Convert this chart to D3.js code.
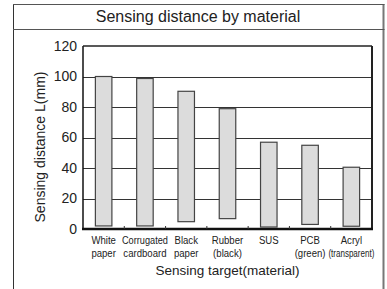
<!DOCTYPE html>
<html><head><meta charset="utf-8">
<script src="https://cdn.jsdelivr.net/npm/d3@7"></script>
<style>body{margin:0;background:#fff;} text{font-family:"Liberation Sans",Arial,sans-serif;fill:#222;}</style>
</head><body>
<svg id="c" width="387" height="289"></svg>
<script>
const categories = [["White","paper"],["Corrugated","cardboard"],["Black","paper"],["Rubber","(black)"],["SUS",""],["PCB","(green)"],["Acryl","(transparent)"]];
const minValues = [2, 2, 4.8, 6.8, 1.3, 3, 1.8];
const maxValues = [100, 98.7, 90.3, 78.9, 56.9, 54.9, 40.5];
const yTicks = [0, 20, 40, 60, 80, 100, 120];
const title = "Sensing distance by material";
const yTitle = "Sensing distance L(mm)";
const xTitle = "Sensing target(material)";

const svg = d3.select("#c");
const L = 83, R = 372, T = 46, B = 229;
const x = d3.scaleBand().domain(d3.range(categories.length)).range([L, R]).paddingInner(0.6).paddingOuter(0.3);
const y = d3.scaleLinear().domain([0, 120]).range([B, T]);

// frame
svg.append("line").attr("x1",13.5).attr("x2",13.5).attr("y1",4).attr("y2",289).attr("stroke","#333").attr("stroke-width",1);
svg.append("line").attr("x1",383.5).attr("x2",383.5).attr("y1",4).attr("y2",289).attr("stroke","#777").attr("stroke-width",2);
svg.append("line").attr("x1",13).attr("x2",384.5).attr("y1",4.5).attr("y2",4.5).attr("stroke","#555").attr("stroke-width",1);
svg.append("line").attr("x1",13).attr("x2",384.5).attr("y1",29.5).attr("y2",29.5).attr("stroke","#555").attr("stroke-width",1);
svg.append("text").attr("x",198).attr("y",22).attr("text-anchor","middle").style("font-size","16px").text(title);

// grid
svg.append("g").selectAll("line").data(yTicks.filter(d=>d>0&&d<120)).join("line")
  .attr("x1",L).attr("x2",R).attr("y1",d=>Math.round(y(d))+0.5).attr("y2",d=>Math.round(y(d))+0.5)
  .attr("stroke","#333").attr("stroke-width",1);

// bars
svg.append("g").selectAll("rect").data(categories.map((c,i)=>i)).join("rect")
  .attr("x",i=>x(i)).attr("width",x.bandwidth())
  .attr("y",i=>y(maxValues[i])).attr("height",i=>y(minValues[i])-y(maxValues[i]))
  .attr("fill","#dcdcdc").attr("stroke","#444").attr("stroke-width",1.2);

// plot border
svg.append("line").attr("x1",L).attr("x2",L).attr("y1",T).attr("y2",B).attr("stroke","#111").attr("stroke-width",1.5);
svg.append("line").attr("x1",L).attr("x2",R).attr("y1",T).attr("y2",T).attr("stroke","#222").attr("stroke-width",1.5);
svg.append("line").attr("x1",R).attr("x2",R).attr("y1",T).attr("y2",B).attr("stroke","#222").attr("stroke-width",2);
svg.append("line").attr("x1",L-1).attr("x2",R+1).attr("y1",B).attr("y2",B).attr("stroke","#111").attr("stroke-width",2.5);

// small ticks between bands
svg.append("g").selectAll("line").data(d3.range(1,categories.length)).join("line")
  .attr("x1",i=>x(i)-x.step()*x.paddingInner()/2).attr("x2",i=>x(i)-x.step()*x.paddingInner()/2)
  .attr("y1",B).attr("y2",B-3).attr("stroke","#333").attr("stroke-width",1);

// y axis labels
const yAxis = d3.axisLeft(y).tickValues(yTicks).tickSize(0).tickPadding(6);
const gy = svg.append("g").attr("transform",`translate(${L},0)`).call(yAxis);
gy.select(".domain").remove();
gy.selectAll("text").style("font-size","14px").attr("fill","#222").style("font-family","'Liberation Sans',Arial,sans-serif");

// x labels (condensed via scale transform)
const xl = svg.append("g");
const probe = xl.append("text").style("font-size","11.5px").text("Corrugated");
const k = 48 / probe.node().getComputedTextLength();
probe.remove();
categories.forEach((c,i)=>{
  c.forEach((s,j)=>{
    if(!s) return;
    const t = xl.append("text").attr("x",0).attr("y",0)
      .attr("text-anchor","middle").style("font-size","11.5px").text(s);
    const w = t.node().getComputedTextLength();
    const kk = Math.min(k, 46 / w);
    t.attr("transform",`translate(${x(i)+x.bandwidth()/2},${244+j*12.5}) scale(${kk},1)`);
  });
});
svg.append("text").attr("x",(L+R)/2).attr("y",275).attr("text-anchor","middle").style("font-size","13.5px").text(xTitle);
svg.append("text").attr("transform",`translate(45,147) rotate(-90)`).attr("text-anchor","middle").style("font-size","14px").text(yTitle);
</script>
</body></html>
